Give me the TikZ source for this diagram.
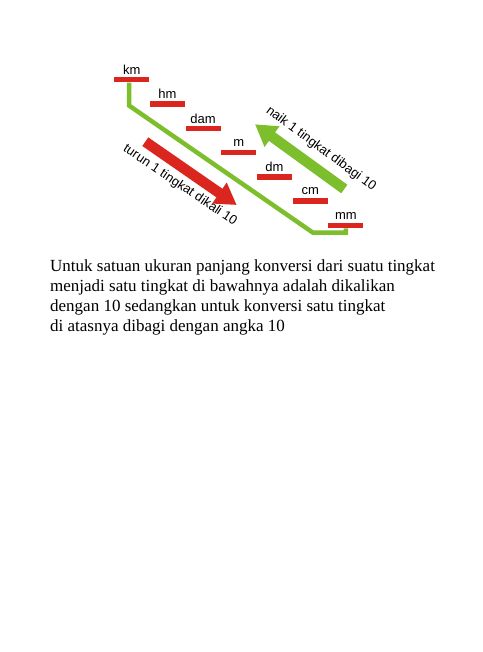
\documentclass[tikz,border=0pt]{standalone}
\usepackage{fontspec}
\setmainfont{Liberation Serif}
\newfontfamily\unitfont{Liberation Sans}
\usepackage{xcolor}
\usetikzlibrary{arrows.meta}
\definecolor{barred}{RGB}{218,38,30}
\definecolor{lime}{RGB}{124,190,44}
\tikzstyle{bar} = [rectangle, minimum width=35pt, minimum height=5.5pt, inner sep=0pt, draw=none, fill=barred]
\tikzstyle{unit} = [inner sep=0pt, font=\unitfont\fontsize{13}{15}\selectfont]
\tikzstyle{ladder} = [lime, line width=4.5pt]
\tikzstyle{bigarrow} = [line width=10.5pt, -{Triangle[length=21pt,width=24pt]}]

\begin{document}
\begin{tikzpicture}[x=1pt, y=1pt, node distance=24.3pt]
\useasboundingbox (0,0) rectangle (482,-652);

% --------- Unit ladder ----------
\node (KM)  [bar] at (131.7,-79.7) {};
\node (HM)  [bar, below of=KM,  xshift=35.7pt] {};
\node (DAM) [bar, below of=HM,  xshift=35.7pt] {};
\node (M)   [bar, below of=DAM, xshift=35.7pt] {};
\node (DM)  [bar, below of=M,   xshift=35.7pt] {};
\node (CM)  [bar, below of=DM,  xshift=35.7pt] {};
\node (MM)  [bar, below of=CM,  xshift=35.7pt] {};

\node (KM_TXT)  [unit, above of=KM,  yshift=-14.5pt] {km};
\node (HM_TXT)  [unit, above of=HM,  yshift=-14.5pt] {hm};
\node (DAM_TXT) [unit, above of=DAM, yshift=-14.5pt] {dam};
\node (M_TXT)   [unit, above of=M,   yshift=-14.5pt] {m};
\node (DM_TXT)  [unit, above of=DM,  yshift=-14.5pt] {dm};
\node (CM_TXT)  [unit, above of=CM,  yshift=-14.5pt] {cm};
\node (MM_TXT)  [unit, above of=MM,  yshift=-14.5pt] {mm};

% green stair line from km down to mm
\coordinate (BEND) at (313,-232.7);
\draw [ladder] ([xshift=-2.5pt]KM.south) -- ++(0,-23) -- (BEND) -| (MM.south);

% --------- Conversion arrows ----------
\coordinate (DOWN_START) at (145.3,-141.7);
\coordinate (DOWN_END)   at (236.7,-205);
\coordinate (UP_START)   at (344.3,-189);
\coordinate (UP_END)     at (255,-124.3);

\draw [bigarrow, barred] (DOWN_START) -- (DOWN_END);
\draw [bigarrow, lime]   (UP_START) -- (UP_END);

\node (DOWN_TXT) [unit, rotate=-34] at (180,-185.5) {turun 1 tingkat dikali 10};
\node (UP_TXT)   [unit, rotate=-36.5] at (321,-149) {naik 1 tingkat dibagi 10};

% --------- Explanation (anchored on last baseline) ----------
\node (NOTE) [anchor=base west, inner sep=0pt, align=left,
              font=\fontsize{17}{20.3}\selectfont] at (50,-331.9)
  {Untuk satuan ukuran panjang konversi dari suatu tingkat\\
   menjadi satu tingkat di bawahnya adalah dikalikan\\
   dengan 10 sedangkan untuk konversi satu tingkat\\
   di atasnya dibagi dengan angka 10};

\end{tikzpicture}
\end{document}
